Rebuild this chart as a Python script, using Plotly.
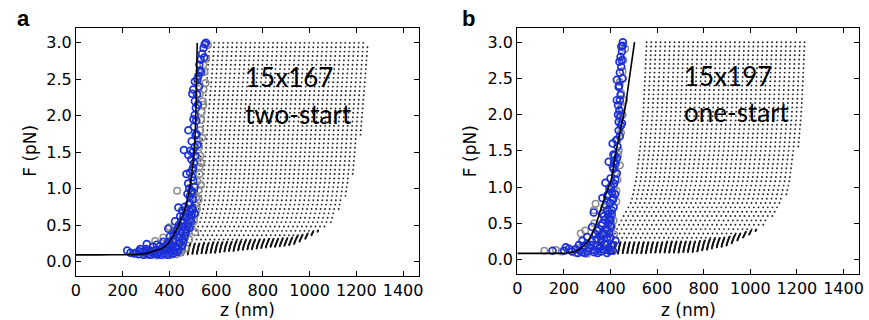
import numpy as np
import plotly.graph_objects as go

# ---------------- data ----------------
x_ticks = [0, 200, 400, 600, 800, 1000, 1200, 1400]
y_ticks = [0.0, 0.5, 1.0, 1.5, 2.0, 2.5, 3.0]
y_tick_text = ["0.0", "0.5", "1.0", "1.5", "2.0", "2.5", "3.0"]

# fitted black curves (z in nm, F in pN)
fit_a_z = [0, 100, 200, 250, 300, 350, 375, 400, 420, 445, 473, 494, 508, 515, 519]
fit_a_F = [0.09, 0.09, 0.092, 0.095, 0.11, 0.16, 0.19, 0.27, 0.37, 0.54, 0.79, 1.16, 1.62, 2.26, 3.0]
fit_b_z = [0, 100, 200, 240, 270, 300, 330, 357, 380, 403, 421, 440, 463, 483, 503]
fit_b_F = [0.085, 0.085, 0.087, 0.10, 0.15, 0.24, 0.42, 0.68, 0.90, 1.10, 1.45, 1.75, 2.10, 2.55, 3.0]

# model curve family (dotted): leftmost member tabulated, members shifted in z
curve_F = [0.08, 0.1, 0.15, 0.22, 0.3, 0.4, 0.55, 0.8, 1.1, 1.5, 2.0, 2.5, 3.0]
model_a_left = [438, 440, 443, 448, 458, 473, 494, 512, 525, 536, 548, 561, 573]
model_b_left = [392, 393, 396, 401, 410, 425, 448, 490, 510, 526, 540, 548, 555]
model_a_top_right = 1249
model_b_top_right = 1253
# lower / right boundary of the dotted region
env_a_z = [300, 450, 600, 700, 819, 925, 1023, 1094, 1149, 1179, 1235, 1249, 1400]
env_a_F = [0.08, 0.085, 0.12, 0.15, 0.19, 0.22, 0.38, 0.53, 0.83, 1.11, 2.0, 3.0, 3.5]
env_b_z = [300, 435, 600, 760, 902, 1029, 1114, 1171, 1235, 1253, 1400]
env_b_F = [0.075, 0.08, 0.09, 0.10, 0.19, 0.40, 0.63, 1.0, 2.0, 3.0, 3.5]
n_model_curves = 36

# measured points, panel a
blue_a = [(556,3.0),(546,2.93),(540,2.85),(534,2.77),(528,2.70),(530,2.62),(524,2.55),(509,2.47),
          (502,2.36),(518,2.29),(509,2.20),(513,2.11),(508,2.01),(515,1.93),(505,1.85),(481,1.80),
          (512,1.73),(495,1.65),(508,1.57),(462,1.53),(500,1.50),(481,1.46),(494,1.40),(505,1.35),
          (501,1.29),(488,1.22),(497,1.16),(502,1.11),(480,1.07),(508,1.02),(494,0.97),(477,0.93),
          (486,0.89),(501,0.85),(488,0.80),(466,0.75),(497,0.73),(508,0.66),(476,0.66),(438,0.74),
          (455,0.70),(488,0.58),(446,0.62),(470,0.60),(480,0.52),(462,0.55),(424,0.55),(459,0.48),
          (440,0.50),(470,0.44),(395,0.45),(430,0.41),(450,0.40),(418,0.36),(402,0.34),(440,0.33),
          (425,0.30),(455,0.30),(374,0.27),(400,0.27),(346,0.23),(303,0.24),(330,0.20),(360,0.21),
          (388,0.19),(410,0.22),(430,0.20),(275,0.17),(300,0.17),(318,0.15),(345,0.16),(372,0.15),
          (395,0.16),(418,0.14),(219,0.15),(233,0.12),(268,0.10),(285,0.13),(297,0.12),(310,0.10),
          (339,0.11),(355,0.12),(381,0.10),(400,0.12),(417,0.11),(435,0.13),(325,0.13),(290,0.09),
          (365,0.09),(395,0.09),(250,0.11),(270,0.14),(440,0.17),(455,0.22),(465,0.35),(485,0.46),
          (490,0.68),(473,1.20),(490,1.52),(520,1.60),(498,2.30),(520,2.50),(494,0.63),(501,0.71),
          (410,0.15),(425,0.18),(445,0.25),(460,0.28),(470,0.40),(478,0.48),(492,0.55),(470,0.70),
          (482,0.78),(460,0.62),(450,0.55),(435,0.45),(415,0.30),(390,0.24),(360,0.13),(380,0.18),
          (405,0.20),(320,0.09),(350,0.10),(300,0.14),(258,0.12),(497,0.95),(485,1.00),(499,1.25),
          (512,1.45),(516,1.75),(503,1.95),(522,2.15),(527,2.40),(536,2.60),(549,2.80),(551,2.98)]
gray_a = [(565,2.97),(557,2.78),(550,2.60),(546,2.36),(543,2.20),(538,2.05),(536,1.94),(532,1.80),
          (522,1.67),(527,1.57),(532,1.45),(529,1.30),(529,1.20),(520,1.10),(525,0.98),(433,0.97),
          (515,0.88),(510,0.78),(518,0.72),(500,0.62),(505,0.55),(495,0.48),(480,0.40),(466,0.38),
          (400,0.47),(416,0.42),(339,0.28),(374,0.33),(466,0.33),(459,0.42),(440,0.26),(420,0.25),
          (390,0.22),(360,0.17),(330,0.12),(300,0.09),(345,0.08),(370,0.12),(410,0.09),(430,0.10),
          (448,0.12),(470,0.18),(485,0.30),(510,1.45),(520,2.45),(545,2.70),(540,1.70),(498,0.92),
          (490,0.70),(530,2.30),(510,0.40),(455,0.15),(535,1.35),(545,2.15),(555,2.45),(525,0.85),
          (512,0.65),(535,1.05)]

# measured points, panel b
blue_b = [(453,3.0),(446,2.94),(449,2.87),(443,2.80),(438,2.73),(446,2.66),(440,2.58),(427,2.48),
          (435,2.38),(443,2.27),(427,2.20),(432,2.13),(438,2.06),(442,1.98),(449,1.88),(435,1.78),
          (440,1.70),(409,1.60),(430,1.56),(418,1.44),(428,1.40),(421,1.32),(392,1.35),(410,1.28),
          (427,1.19),(413,1.25),(400,1.12),(378,1.06),(415,1.05),(406,0.93),(395,0.98),(420,0.90),
          (385,0.88),(410,0.82),(398,0.78),(413,0.72),(380,0.75),(406,0.68),(390,0.62),(364,0.63),
          (328,0.65),(400,0.55),(375,0.55),(390,0.50),(403,0.45),(360,0.47),(380,0.42),(342,0.40),
          (399,0.47),(370,0.36),(367,0.34),(321,0.45),(355,0.32),(300,0.31),(340,0.28),(385,0.30),
          (279,0.26),(320,0.25),(360,0.25),(421,0.26),(264,0.20),(300,0.22),(345,0.20),(380,0.20),
          (286,0.19),(222,0.15),(250,0.14),(310,0.16),(350,0.15),(393,0.16),(201,0.12),(151,0.12),
          (208,0.17),(235,0.11),(270,0.12),(300,0.11),(330,0.10),(360,0.11),(385,0.09),(410,0.12),
          (260,0.09),(290,0.09),(345,0.09),(375,0.13),(395,0.36),(385,0.68),(365,0.85),(412,1.45),
          (435,1.90),(452,2.50),(440,2.20),(330,0.13),(315,0.20),(335,0.35),(350,0.42),(365,0.50),
          (372,0.60),(395,0.57),(385,0.40),(400,0.30),(410,0.20),(405,0.62),(412,0.85),(390,0.90),
          (403,1.00),(420,1.10),(415,1.35),(425,1.65),(445,1.85),(432,2.00),(437,2.40),(448,2.75),
          (452,2.95),(355,0.18),(375,0.22),(280,0.10),(395,0.12)]
gray_b = [(463,2.91),(455,2.75),(450,2.50),(445,2.30),(447,2.10),(440,1.95),(445,1.75),(430,1.65),
          (435,1.50),(425,1.35),(420,1.20),(415,1.00),(410,0.82),(336,0.77),(328,0.68),(413,0.54),
          (400,0.60),(395,0.42),(272,0.36),(291,0.40),(116,0.12),(166,0.13),(190,0.11),(230,0.13),
          (260,0.16),(300,0.14),(330,0.18),(360,0.20),(380,0.25),(350,0.35),(330,0.50),(415,0.35),
          (400,0.15),(340,0.12),(300,0.08),(250,0.09),(372,0.72),(425,0.95),(430,1.10),(440,1.30),
          (458,2.20),(452,2.60),(425,0.80),(433,1.45),(452,2.00),(440,2.45),(395,0.70),(405,0.48)]

labels_a = ["15x167", "two-start"]
labels_b = ["15x197", "one-start"]

# ---------------- figure ----------------
BLUE = "#1b2fd8"
GRAY = "#8c8c8c"


def model_dots(left, top_right, env_z, env_F):
    fine = np.arange(0.08, 1.2, 0.008)
    sparse = np.arange(3.0, 0.05, -0.06)
    shift_max = top_right - left[-1]
    fx, fy, sx, sy = [], [], [], []
    for i in range(n_model_curves):
        shift = shift_max * i / (n_model_curves - 1)
        for F in fine:
            z = np.interp(F, curve_F, left) + shift
            e = np.interp(z, env_z, env_F)
            band = np.interp(e, [0.08, 0.25, 0.45], [0.16, 0.10, 0.0])
            if e <= F <= e + band:
                fx.append(z); fy.append(F)
        for F in sparse:
            z = np.interp(F, curve_F, left) + shift
            e = np.interp(z, env_z, env_F)
            band = np.interp(e, [0.08, 0.25, 0.45], [0.16, 0.10, 0.0])
            if F > e + band:
                sx.append(z); sy.append(F)
    return fx, fy, sx, sy


fig = go.Figure()

panels = [
    ("x", "y", model_a_left, model_a_top_right, env_a_z, env_a_F, gray_a, blue_a, fit_a_z, fit_a_F),
    ("x2", "y2", model_b_left, model_b_top_right, env_b_z, env_b_F, gray_b, blue_b, fit_b_z, fit_b_F),
]
for xa, ya, ml, mtr, ez, eF, gpts, bpts, fz, fF in panels:
    fx, fy, sx, sy = model_dots(ml, mtr, ez, eF)
    fig.add_trace(go.Scatter(x=fx, y=fy, xaxis=xa, yaxis=ya, mode="markers",
                             marker=dict(size=1.9, color="#151515", line=dict(width=0)),
                             hoverinfo="skip", showlegend=False))
    fig.add_trace(go.Scatter(x=sx, y=sy, xaxis=xa, yaxis=ya, mode="markers",
                             marker=dict(size=1.9, color="#222222", line=dict(width=0)),
                             hoverinfo="skip", showlegend=False))
    fig.add_trace(go.Scatter(x=[p[0] for p in gpts], y=[p[1] for p in gpts], xaxis=xa, yaxis=ya,
                             mode="markers",
                             marker=dict(symbol="circle-open", size=6.5, color=GRAY,
                                         line=dict(width=1.5, color=GRAY)),
                             showlegend=False))
    fig.add_trace(go.Scatter(x=[p[0] for p in bpts], y=[p[1] for p in bpts], xaxis=xa, yaxis=ya,
                             mode="markers",
                             marker=dict(symbol="circle-open", size=6.8, color=BLUE,
                                         line=dict(width=1.7, color=BLUE)),
                             showlegend=False))
    fig.add_trace(go.Scatter(x=fz, y=fF, xaxis=xa, yaxis=ya, mode="lines",
                             line=dict(color="black", width=1.6, shape="spline", smoothing=0.6),
                             showlegend=False))

tickfont = dict(family="DejaVu Sans", size=16, color="black")
ax_common = dict(showline=True, linecolor="black", linewidth=1.2, mirror="allticks",
                 ticks="inside", ticklen=5, tickwidth=1, tickcolor="black",
                 showgrid=False, zeroline=False, tickfont=tickfont)

fig.update_layout(
    width=869, height=320,
    margin=dict(l=0, r=0, t=0, b=0),
    paper_bgcolor="white", plot_bgcolor="white",
    xaxis=dict(domain=[71.7 / 869, 418.3 / 869], range=[0, 1468], tickvals=x_ticks,
               anchor="y", **ax_common),
    yaxis=dict(domain=[1 - 276 / 320, 1 - 28.3 / 320], range=[-0.2, 3.2], tickvals=y_ticks,
               ticktext=y_tick_text, anchor="x", **ax_common),
    xaxis2=dict(domain=[517.7 / 869, 863.3 / 869], range=[0, 1468], tickvals=x_ticks,
                anchor="y2", **ax_common),
    yaxis2=dict(domain=[1 - 274 / 320, 1 - 27.7 / 320], range=[-0.2, 3.2], tickvals=y_ticks,
                ticktext=y_tick_text, anchor="x2", **ax_common),
)

ann = []
txtfont = dict(family="Lato", size=26, color="black")
for xr, yr, labs, zx in [("x", "y", labels_a, 713), ("x2", "y2", labels_b, 706)]:
    ann.append(dict(x=zx, y=2.53, xref=xr, yref=yr, text=labs[0], showarrow=False,
                    xanchor="left", yanchor="middle", font=txtfont))
    ann.append(dict(x=zx, y=2.03, xref=xr, yref=yr, text=labs[1], showarrow=False,
                    xanchor="left", yanchor="middle", font=txtfont))

labfont = dict(family="DejaVu Sans", size=17, color="black")
for cx in [245, 690.5]:
    ann.append(dict(x=cx / 869, y=1 - 309.5 / 320, xref="paper", yref="paper", text="z (nm)",
                    showarrow=False, xanchor="center", yanchor="middle", font=labfont))
for cx in [25, 470]:
    ann.append(dict(x=cx / 869, y=1 - 151 / 320, xref="paper", yref="paper", text="F (pN)",
                    showarrow=False, xanchor="center", yanchor="middle", textangle=-90,
                    font=labfont))
letfont = dict(family="Liberation Sans", size=22, color="black")
for cx, txt in [(19, "a"), (468, "b")]:
    ann.append(dict(x=cx / 869, y=1 - 18 / 320, xref="paper", yref="paper", text="<b>" + txt + "</b>",
                    showarrow=False, xanchor="center", yanchor="middle", font=letfont))
fig.update_layout(annotations=ann)

fig.write_html("out.html", config={"displayModeBar": False},
               post_script="document.body.style.margin='0px';")
